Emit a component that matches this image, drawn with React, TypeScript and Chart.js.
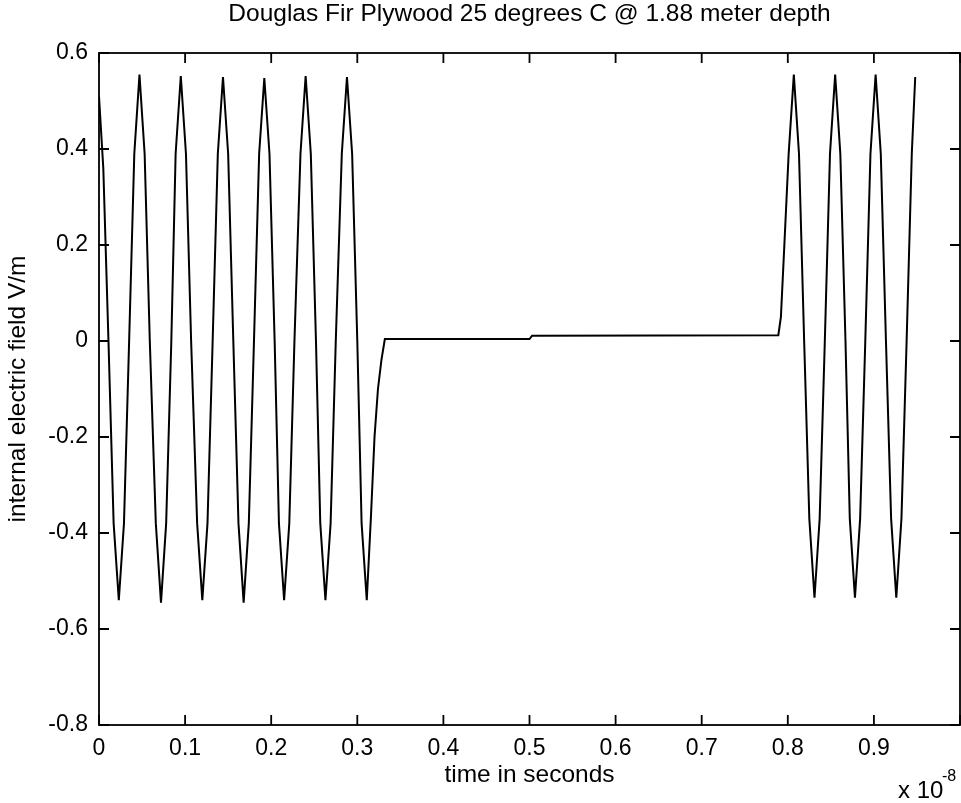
import React, { useEffect, useRef } from 'react';
import { Chart, registerables } from 'chart.js';

Chart.register(...registerables);

const chartTitle = 'Douglas Fir Plywood 25 degrees C @ 1.88 meter depth';
const xAxisTitle = 'time in seconds';
const yAxisTitle = 'internal electric field V/m';
const exponentBase = 'x 10';
const exponentPower = '-8';

// time (x 10^-8 s)
const timeValues = [
  0, 0.005, 0.011, 0.017, 0.023,
  0.029, 0.035, 0.041, 0.047,
  0.053, 0.059, 0.066, 0.072,
  0.078, 0.084, 0.089, 0.095,
  0.101, 0.107, 0.114, 0.120,
  0.126, 0.132, 0.138, 0.144,
  0.150, 0.156, 0.162, 0.168,
  0.174, 0.180, 0.186, 0.192,
  0.198, 0.204, 0.209, 0.215,
  0.221, 0.227, 0.234, 0.240,
  0.246, 0.252, 0.257, 0.263,
  0.269, 0.275, 0.282, 0.288,
  0.294, 0.300, 0.305, 0.311,
  0.316, 0.320, 0.324, 0.328, 0.332,
  0.500, 0.503, 0.789,
  0.792, 0.796, 0.801, 0.807,
  0.813, 0.819, 0.825, 0.831,
  0.837, 0.843, 0.849, 0.855,
  0.861, 0.867, 0.872, 0.878,
  0.884, 0.890, 0.896, 0.902,
  0.908, 0.914, 0.920, 0.926,
  0.932, 0.938, 0.944, 0.948,
];

// internal electric field (V/m)
const fieldValues = [
  0.51, 0.36, 0.0, -0.38, -0.54,
  -0.38, 0.0, 0.39, 0.555,
  0.39, 0.0, -0.38, -0.545,
  -0.38, 0.0, 0.39, 0.552,
  0.39, 0.0, -0.38, -0.54,
  -0.38, 0.0, 0.39, 0.55,
  0.39, 0.0, -0.38, -0.545,
  -0.38, 0.0, 0.39, 0.548,
  0.39, 0.0, -0.38, -0.54,
  -0.38, 0.0, 0.39, 0.552,
  0.39, 0.0, -0.38, -0.54,
  -0.38, 0.0, 0.39, 0.55,
  0.39, 0.0, -0.38, -0.54,
  -0.36, -0.2, -0.1, -0.04, 0.004,
  0.004, 0.011, 0.012,
  0.05, 0.2, 0.39, 0.555,
  0.39, 0.0, -0.37, -0.535,
  -0.37, 0.0, 0.39, 0.555,
  0.39, 0.0, -0.37, -0.535,
  -0.37, 0.0, 0.39, 0.555,
  0.39, 0.0, -0.37, -0.535,
  -0.37, 0.0, 0.39, 0.55,
];

const xTickValues = [0, 0.1, 0.2, 0.3, 0.4, 0.5, 0.6, 0.7, 0.8, 0.9, 1];
const xTickLabels = ['0', '0.1', '0.2', '0.3', '0.4', '0.5', '0.6', '0.7', '0.8', '0.9', ''];
const yTickValues = [-0.8, -0.6, -0.4, -0.2, 0, 0.2, 0.4, 0.6];
const yTickLabels = ['-0.8', '-0.6', '-0.4', '-0.2', '0', '0.2', '0.4', '0.6'];

const FONT = "'Liberation Sans', Arial, Helvetica, sans-serif";

function labelFor(values: number[], labels: string[], v: number): string {
  let best = 0;
  for (let i = 1; i < values.length; i++) {
    if (Math.abs(values[i] - v) < Math.abs(values[best] - v)) best = i;
  }
  return Math.abs(values[best] - v) < 1e-6 ? labels[best] : '';
}

const matlabBox = {
  id: 'matlabBox',
  afterDatasetsDraw(chart: any) {
    const { ctx, chartArea, scales } = chart;
    const { left, right, top, bottom } = chartArea;
    const x = scales.x;
    const y = scales.y;
    const tick = 10;
    ctx.save();
    ctx.strokeStyle = '#000';
    ctx.lineWidth = 1.8;
    ctx.strokeRect(left, top, right - left, bottom - top);
    ctx.beginPath();
    for (const v of xTickValues) {
      const px = x.getPixelForValue(v);
      ctx.moveTo(px, bottom);
      ctx.lineTo(px, bottom - tick);
      ctx.moveTo(px, top);
      ctx.lineTo(px, top + tick);
    }
    for (const v of yTickValues) {
      const py = y.getPixelForValue(v);
      ctx.moveTo(left, py);
      ctx.lineTo(left + tick, py);
      ctx.moveTo(right, py);
      ctx.lineTo(right - tick, py);
    }
    ctx.stroke();
    ctx.fillStyle = '#000';
    ctx.textAlign = 'left';
    ctx.textBaseline = 'alphabetic';
    ctx.font = `24px ${FONT}`;
    ctx.fillText(exponentBase, right - 62, bottom + 73);
    ctx.font = `16px ${FONT}`;
    ctx.fillText(exponentPower, right - 18, bottom + 56);
    ctx.restore();
  },
};

export default function App() {
  const canvasRef = useRef<HTMLCanvasElement | null>(null);

  useEffect(() => {
    document.body.style.margin = '0';
    const canvas = canvasRef.current;
    if (!canvas) return;
    const data = timeValues.map((t, i) => ({ x: t, y: fieldValues[i] }));
    const chart = new Chart(canvas, {
      type: 'line',
      data: {
        datasets: [
          {
            data,
            borderColor: '#000',
            borderWidth: 2,
            pointRadius: 0,
            tension: 0,
            fill: false,
          },
        ],
      },
      options: {
        responsive: false,
        animation: false,
        events: [],
        layout: { padding: { left: 0, right: 1, top: 0, bottom: 0 } },
        plugins: {
          legend: { display: false },
          tooltip: { enabled: false },
          title: {
            display: true,
            text: chartTitle,
            fullSize: false,
            color: '#000',
            font: { family: FONT, size: 24.5, weight: 'normal' },
            padding: { top: 0, bottom: 23.6 },
          },
        },
        scales: {
          x: {
            type: 'linear',
            min: 0,
            max: 1,
            afterFit: (s: any) => {
              s.height = 78;
              s.paddingRight = 0;
              s.paddingLeft = 0;
            },
            afterBuildTicks: (s: any) => {
              s.ticks = xTickValues.map((v) => ({ value: v }));
            },
            ticks: {
              color: '#000',
              font: { family: FONT, size: 23 },
              padding: 10,
              maxRotation: 0,
              autoSkip: false,
              callback: (v: any) => labelFor(xTickValues, xTickLabels, Number(v)),
            },
            grid: { display: false, drawTicks: false },
            border: { display: false },
            title: {
              display: true,
              text: xAxisTitle,
              color: '#000',
              font: { family: FONT, size: 24.5 },
              padding: { top: 0, bottom: 13.3 },
            },
          },
          y: {
            type: 'linear',
            min: -0.8,
            max: 0.6,
            afterFit: (s: any) => {
              s.width = 99;
            },
            afterBuildTicks: (s: any) => {
              s.ticks = yTickValues.map((v) => ({ value: v }));
            },
            ticks: {
              color: '#000',
              font: { family: FONT, size: 23 },
              padding: 11,
              autoSkip: false,
              callback: (v: any) => labelFor(yTickValues, yTickLabels, Number(v)),
            },
            grid: { display: false, drawTicks: false },
            border: { display: false },
            title: {
              display: true,
              text: yAxisTitle,
              color: '#000',
              font: { family: FONT, size: 24.5 },
              padding: { top: 3.3, bottom: 0 },
            },
          },
        },
      },
      plugins: [matlabBox],
    });
    return () => chart.destroy();
  }, []);

  return (
    <div style={{ width: 961, height: 803 }}>
      <canvas ref={canvasRef} width={961} height={803} style={{ display: 'block' }} />
    </div>
  );
}
